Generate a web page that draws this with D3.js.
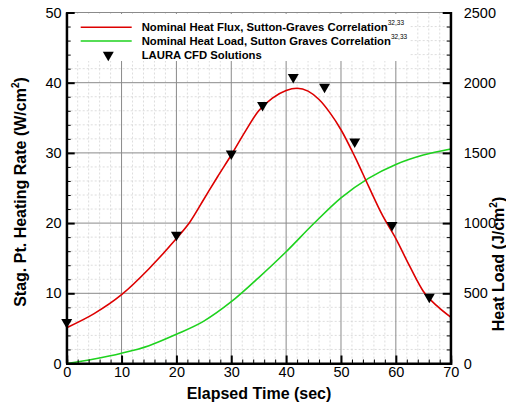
<!DOCTYPE html>
<html><head><meta charset="utf-8">
<script src="https://cdn.jsdelivr.net/npm/d3@7"></script>
<style>body{margin:0;background:#fff;} svg{display:block;font-family:"Liberation Sans",Arial,sans-serif;}</style>
</head><body><svg id="c" width="506" height="404"></svg>
<script>
// Data
const fluxTime  = [0,5,10,15,20,22.5,25,27.5,30,32.5,35,37.5,40,42,44,46,48,50,52.5,55,57.5,60,62.5,65,67.5,70];
const fluxValue = [5.1,7.1,9.8,13.5,17.8,20.2,23.4,26.6,29.7,33.0,36.0,37.8,38.9,39.2,38.8,37.6,35.7,33.3,29.5,25.3,21.2,17.8,13.9,10.3,8.2,6.6];
const loadTime  = [0,5,10,15,20,25,30,35,40,45,50,55,60,65,70];
const loadValue = [0,32,73,127,208,302,440,612,796,995,1180,1319,1418,1485,1528];
const cfdTime   = [0,20,30,35.7,41.3,47,52.5,59.3,66.1];
const cfdValue  = [5.9,18.3,29.9,36.8,40.8,39.4,31.6,19.7,9.5];
const xTicks = [0,10,20,30,40,50,60,70];
const yLeftTicks = [0,10,20,30,40,50];
const yRightTicks = [0,500,1000,1500,2000,2500];
const legendLabels = ["Nominal Heat Flux, Sutton-Graves Correlation","Nominal Heat Load, Sutton Graves Correlation","LAURA CFD Solutions"];

const svg = d3.select("#c");
const L=66.7, R=450.7, T=12.5, B=363.5;
const x = d3.scaleLinear().domain([0,70]).range([L,R]);
const yL = d3.scaleLinear().domain([0,50]).range([B,T]);
const yR = d3.scaleLinear().domain([0,2500]).range([B,T]);

// minor grid
const g = svg.append("g");
g.selectAll(".mx").data(d3.range(0,71,2).filter(v=>v%10!==0)).join("line")
 .attr("x1",d=>x(d)).attr("x2",d=>x(d)).attr("y1",T).attr("y2",B)
 .attr("stroke","#d4d4d4").attr("stroke-width",0.8).attr("stroke-dasharray","2,2");
g.selectAll(".my").data(d3.range(0,51,2).filter(v=>v%10!==0)).join("line")
 .attr("y1",d=>yL(d)).attr("y2",d=>yL(d)).attr("x1",L).attr("x2",R)
 .attr("stroke","#d4d4d4").attr("stroke-width",0.8).attr("stroke-dasharray","2,2");
// major grid
g.selectAll(".Mx").data(xTicks).join("line")
 .attr("x1",d=>x(d)).attr("x2",d=>x(d)).attr("y1",T).attr("y2",B)
 .attr("stroke","#8a8a8a").attr("stroke-width",1);
g.selectAll(".My").data(yLeftTicks).join("line")
 .attr("y1",d=>yL(d)).attr("y2",d=>yL(d)).attr("x1",L).attr("x2",R)
 .attr("stroke","#8a8a8a").attr("stroke-width",1);

// legend box
svg.append("rect").attr("x",68).attr("y",14).attr("width",342).attr("height",47).attr("fill","#fff");

// lines
const fluxData = fluxTime.map((t,i)=>[t,fluxValue[i]]);
const loadData = loadTime.map((t,i)=>[t,loadValue[i]]);
svg.append("path").datum(loadData)
 .attr("d",d3.line().x(d=>x(d[0])).y(d=>yR(d[1])).curve(d3.curveMonotoneX))
 .attr("fill","none").attr("stroke","#1ed21e").attr("stroke-width",1.6);
svg.append("path").datum(fluxData)
 .attr("d",d3.line().x(d=>x(d[0])).y(d=>yL(d[1])).curve(d3.curveMonotoneX))
 .attr("fill","none").attr("stroke","#dd0000").attr("stroke-width",1.6);

// markers
const tri = d3.symbol().type(d3.symbolTriangle).size(52);
svg.selectAll(".cfd").data(cfdTime.map((t,i)=>[t,cfdValue[i]])).join("path")
 .attr("d",tri).attr("transform",d=>`translate(${x(d[0])},${yL(d[1])}) rotate(180)`)
 .attr("fill","#000");

// axes
const ax = svg.append("g").attr("transform",`translate(0,${B})`)
 .call(d3.axisBottom(x).tickValues(xTicks).tickSize(-8).tickPadding(3).tickFormat(d3.format("d")));
const axm = svg.append("g").attr("transform",`translate(0,${B})`)
 .call(d3.axisBottom(x).tickValues(d3.range(0,71,2).filter(v=>v%10!==0)).tickSize(-4).tickFormat(""));
const ayl = svg.append("g").attr("transform",`translate(${L},0)`)
 .call(d3.axisLeft(yL).tickValues(yLeftTicks).tickSize(-8).tickPadding(5).tickFormat(d3.format("d")));
const aylm = svg.append("g").attr("transform",`translate(${L},0)`)
 .call(d3.axisLeft(yL).tickValues(d3.range(0,51,2).filter(v=>v%10!==0)).tickSize(-4).tickFormat(""));
const ayr = svg.append("g").attr("transform",`translate(${R},0)`)
 .call(d3.axisRight(yR).tickValues(yRightTicks).tickSize(-8).tickPadding(13).tickFormat(d3.format("d")));
const ayrm = svg.append("g").attr("transform",`translate(${R},0)`)
 .call(d3.axisRight(yR).tickValues(d3.range(0,2501,100).filter(v=>v%500!==0)).tickSize(-4).tickFormat(""));
[ax,axm,ayl,aylm,ayr,ayrm].forEach(a=>{
  a.select(".domain").attr("stroke","#000").attr("stroke-width",2);
  a.selectAll(".tick line").attr("stroke","#000").attr("stroke-width",2);
  a.selectAll("text").attr("font-family","Liberation Sans, Arial, sans-serif").attr("font-size",14.5).attr("fill","#000");
});
[axm,aylm,ayrm].forEach(a=>a.selectAll(".tick line").attr("stroke-width",1));
ayl.select(".domain").attr("d",`M0,${B}V${T}`);
ayr.select(".domain").attr("d",`M0,${B}V${T}`);
ax.select(".domain").attr("d",`M${L},0H${R}`);

// titles
svg.append("text").attr("x",259).attr("y",399).attr("text-anchor","middle")
 .attr("font-size",16).attr("font-weight","bold").text("Elapsed Time (sec)");
const lt = svg.append("text").attr("transform","translate(26,192) rotate(-90)").attr("text-anchor","middle")
 .attr("font-size",16).attr("font-weight","bold");
lt.append("tspan").text("Stag. Pt. Heating Rate (W/cm");
lt.append("tspan").attr("font-size",10).attr("dy",-7).text("2");
lt.append("tspan").attr("dy",7).text(")");
const rt = svg.append("text").attr("transform","translate(504,264) rotate(-90)").attr("text-anchor","middle")
 .attr("font-size",16).attr("font-weight","bold");
rt.append("tspan").text("Heat Load (J/cm");
rt.append("tspan").attr("font-size",10).attr("dy",-7).text("2");
rt.append("tspan").attr("dy",7).text(")");

// legend
const leg = svg.append("g");
const ly = [27.3,41,55];
leg.append("line").attr("x1",80.7).attr("x2",131.7).attr("y1",ly[0]).attr("y2",ly[0]).attr("stroke","#dd0000").attr("stroke-width",1.6);
leg.append("line").attr("x1",80.7).attr("x2",131.7).attr("y1",ly[1]).attr("y2",ly[1]).attr("stroke","#1ed21e").attr("stroke-width",1.6);
leg.append("path").attr("d",tri).attr("transform",`translate(108.3,${ly[2]}) rotate(180)`).attr("fill","#000");
legendLabels.forEach((s,i)=>{
  const t = leg.append("text").attr("x",141.7).attr("y",ly[i]+4).attr("font-size",11.3).attr("font-weight","bold").text(s);
  if(i<2) t.append("tspan").attr("font-size",6.5).attr("font-weight","normal").attr("dy",-6).text("32,33");
});
</script></body></html>
